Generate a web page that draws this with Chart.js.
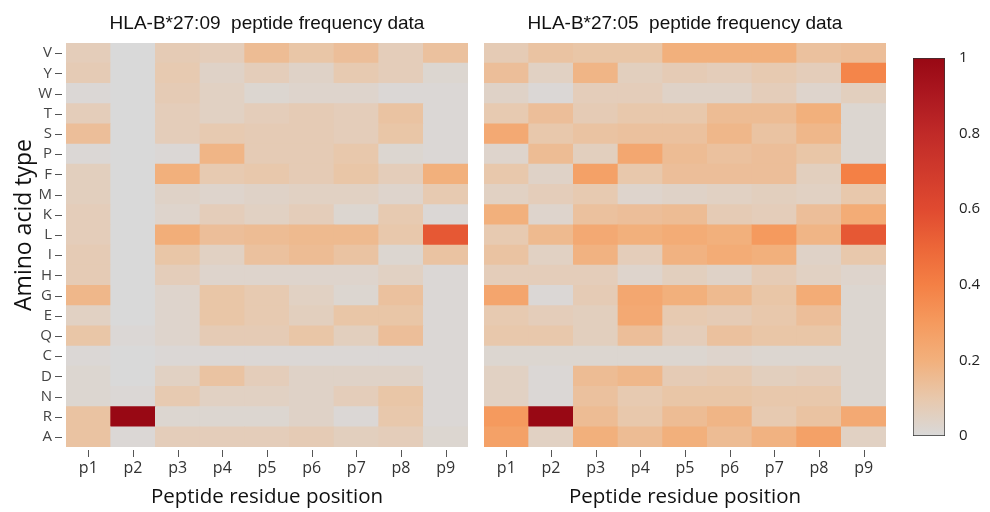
<!DOCTYPE html>
<html>
<head>
<meta charset="utf-8">
<title>HLA-B*27 peptide frequency heatmaps</title>
<script src="https://cdn.jsdelivr.net/npm/chart.js@4.4.1/dist/chart.umd.min.js"></script>
<style>
body{margin:0;background:#fff;}
#page{position:relative;width:990px;height:512px;overflow:hidden;}
.box{position:absolute;top:0;height:512px;}
#leftBox{left:0;width:476px;}
#rightBox{left:476px;width:420px;}
#barBox{left:900px;width:90px;}
</style>
</head>
<body>
<div id="page">
<div class="box" id="leftBox"><canvas id="leftChart"></canvas></div>
<div class="box" id="rightBox"><canvas id="rightChart"></canvas></div>
<div class="box" id="barBox"><canvas id="colorBar"></canvas></div>
</div>
<script>

/* DATA */

const positions = ["p1","p2","p3","p4","p5","p6","p7","p8","p9"];

// rows from top to bottom as in the figure
const aminoAcids = ["V","Y","W","T","S","P","F","M","K","L","I","H","G","E","Q","C","D","N","R","A"];

// HLA-B*27:09, one row per amino acid (same order), p1..p9
const freqB2709 = [
[0.07,0.00,0.08,0.07,0.15,0.11,0.14,0.07,0.13],
[0.08,0.00,0.09,0.04,0.07,0.04,0.09,0.07,0.02],
[0.01,0.00,0.08,0.05,0.02,0.03,0.03,0.01,0.01],
[0.07,0.00,0.07,0.05,0.07,0.08,0.07,0.12,0.01],
[0.14,0.00,0.07,0.09,0.08,0.08,0.07,0.11,0.01],
[0.01,0.00,0.01,0.18,0.08,0.08,0.10,0.02,0.01],
[0.06,0.00,0.20,0.09,0.10,0.08,0.11,0.07,0.20],
[0.06,0.00,0.04,0.03,0.04,0.05,0.05,0.03,0.09],
[0.07,0.00,0.03,0.07,0.05,0.07,0.02,0.09,0.01],
[0.07,0.00,0.21,0.14,0.15,0.16,0.16,0.10,0.55],
[0.08,0.00,0.11,0.05,0.13,0.15,0.12,0.02,0.12],
[0.08,0.00,0.07,0.03,0.03,0.03,0.03,0.05,0.01],
[0.17,0.00,0.03,0.11,0.09,0.05,0.02,0.13,0.01],
[0.05,0.00,0.03,0.11,0.09,0.06,0.11,0.11,0.01],
[0.11,0.01,0.03,0.08,0.08,0.11,0.06,0.14,0.01],
[0.01,0.00,0.01,0.01,0.01,0.01,0.01,0.01,0.01],
[0.02,0.00,0.05,0.12,0.07,0.04,0.04,0.04,0.01],
[0.02,0.01,0.09,0.05,0.05,0.04,0.07,0.11,0.01],
[0.12,1.00,0.02,0.02,0.02,0.04,0.01,0.10,0.01],
[0.12,0.01,0.07,0.07,0.07,0.08,0.06,0.07,0.02]
];

// HLA-B*27:05, same layout
const freqB2705 = [
[0.08,0.12,0.11,0.11,0.20,0.20,0.20,0.13,0.14],
[0.14,0.05,0.18,0.06,0.08,0.07,0.09,0.07,0.38],
[0.04,0.01,0.07,0.07,0.04,0.04,0.07,0.03,0.06],
[0.09,0.14,0.08,0.10,0.10,0.15,0.15,0.20,0.02],
[0.23,0.10,0.12,0.13,0.13,0.17,0.12,0.17,0.02],
[0.03,0.15,0.06,0.24,0.15,0.13,0.14,0.11,0.02],
[0.10,0.04,0.27,0.10,0.14,0.14,0.14,0.06,0.40],
[0.05,0.07,0.09,0.03,0.04,0.05,0.06,0.05,0.10],
[0.20,0.03,0.13,0.14,0.15,0.08,0.07,0.14,0.22],
[0.09,0.16,0.23,0.20,0.22,0.20,0.30,0.18,0.55],
[0.12,0.05,0.19,0.07,0.19,0.22,0.20,0.04,0.10],
[0.07,0.07,0.07,0.03,0.06,0.04,0.08,0.05,0.03],
[0.25,0.01,0.08,0.24,0.20,0.16,0.11,0.22,0.02],
[0.09,0.07,0.06,0.23,0.09,0.08,0.10,0.14,0.02],
[0.10,0.10,0.06,0.14,0.07,0.13,0.11,0.11,0.02],
[0.02,0.02,0.02,0.02,0.02,0.03,0.02,0.02,0.02],
[0.05,0.01,0.15,0.17,0.08,0.09,0.06,0.07,0.02],
[0.05,0.01,0.13,0.09,0.11,0.11,0.10,0.10,0.02],
[0.30,1.00,0.15,0.10,0.15,0.18,0.09,0.12,0.23],
[0.27,0.05,0.20,0.15,0.20,0.15,0.19,0.27,0.05]
];

const colorTicks = [0, 0.2, 0.4, 0.6, 0.8, 1];

/* COLOUR SCALE */

const colorStops = [
[0.0,[217,217,217]],
[0.1,[232,200,172]],
[0.2,[242,176,124]],
[0.3,[245,154,94]],
[0.4,[244,128,69]],
[0.5,[236,102,56]],
[0.6,[224,74,48]],
[0.7,[208,58,44]],
[0.8,[192,42,40]],
[0.9,[172,24,32]],
[1.0,[152,8,20]]
];

function colorFor(v){
v = Math.max(0, Math.min(1, v));
for(let i = 1; i < colorStops.length; i++){
const [p1,c1] = colorStops[i];
const [p0,c0] = colorStops[i-1];
if(v <= p1){
const t = (v - p0) / (p1 - p0);
const c = c0.map((x,k) => Math.round(x + (c1[k]-x)*t));
return `rgb(${c[0]},${c[1]},${c[2]})`;
}
}
return "rgb(152,8,20)";
}

/* FONTS */

const FONT = "'Open Sans', 'DejaVu Sans', sans-serif";
const TITLE_FONT = "'Liberation Sans', Arial, sans-serif";

/* PANEL TEXT + SHORT DETACHED TICK MARKS */

const panelText = {
id: "panelText",
afterDraw(chart, args, opts){
const ctx = chart.ctx;
const area = chart.chartArea;
ctx.save();

// tick marks, a few px away from the cells
ctx.strokeStyle = "#555";
ctx.lineWidth = 1;
ctx.beginPath();
const xs = chart.scales.x;
xs.ticks.forEach((t,i) => {
const x = Math.round(xs.getPixelForTick(i)) + 0.5;
ctx.moveTo(x, area.bottom + 3);
ctx.lineTo(x, area.bottom + 10);
});
if(opts.yTitle){
const ys = chart.scales.y;
ys.ticks.forEach((t) => {
const y = Math.round(ys.getPixelForValue(t.value)) + 0.5;
ctx.moveTo(area.left - 11, y);
ctx.lineTo(area.left - 4, y);
});
}
ctx.stroke();

ctx.fillStyle = "#111";
ctx.textAlign = "center";
ctx.textBaseline = "middle";
if(opts.title){
ctx.font = `19px ${TITLE_FONT}`;
ctx.fillText(opts.title, (area.left + area.right) / 2, 24);
}
if(opts.yTitle){
ctx.font = `23px ${FONT}`;
ctx.translate(24, 225);
ctx.rotate(-Math.PI / 2);
ctx.fillText(opts.yTitle, 0, 0);
}
ctx.restore();
}
};

/* HEATMAP BUILDER */

function buildHeatmap(canvasId, title, freq, showYAxis, padding){

// bottom row first so the stack goes A ... V upward
const datasets = [];
for(let r = aminoAcids.length - 1; r >= 0; r--){
datasets.push({
label: aminoAcids[r],
data: positions.map(() => 1),
backgroundColor: freq[r].map(colorFor),
borderWidth: 0,
barPercentage: 1,
categoryPercentage: 1
});
}

const n = aminoAcids.length;

return new Chart(document.getElementById(canvasId),{
type: "bar",
data: { labels: positions, datasets: datasets },
plugins: [panelText],
options:{
responsive: true,
maintainAspectRatio: false,
animation: false,
layout:{ padding: padding },
plugins:{
legend:{ display:false },
tooltip:{ enabled:false },
title:{ display:false },
panelText:{ title: title, yTitle: showYAxis ? "Amino acid type" : null }
},
scales:{
x:{
stacked: true,
grid:{ display: true, drawOnChartArea: false, offset: false, tickLength: 10, color: "rgba(0,0,0,0)", tickColor: "rgba(0,0,0,0)" },
border:{ display: false },
ticks:{ color: "#333", font:{ family: FONT, size: 16 }, padding: 2 },
title:{
display: true,
text: "Peptide residue position",
color: "#111",
font:{ family: FONT, size: 20.5 },
padding:{ top: 0, bottom: 3 }
},
afterFit(scale){ scale.height = 65; }
},
y:{
stacked: true,
min: 0,
max: n,
display: showYAxis,
grid:{ display: true, drawOnChartArea: false, tickLength: 11, color: "rgba(0,0,0,0)", tickColor: "rgba(0,0,0,0)" },
border:{ display: false },
afterBuildTicks(scale){
scale.ticks = aminoAcids.map((a,i) => ({ value: n - i - 0.5 }));
},
ticks:{
color: "#444",
font:{ family: FONT, size: 15 },
padding: 3,
autoSkip: false,
callback: (value) => aminoAcids[Math.round(n - 0.5 - value)]
},
afterFit(scale){ if(showYAxis) scale.width = 66; }
}
}
}
});

}

buildHeatmap("leftChart", "HLA-B*27:09  peptide frequency data", freqB2709, true, { left:0, right:8, top:43, bottom:0 });
buildHeatmap("rightChart", "HLA-B*27:05  peptide frequency data", freqB2705, false, { left:8, right:10, top:43, bottom:0 });

/* COLOUR BAR */

new Chart(document.getElementById("colorBar"),{
type: "bar",
data:{
labels: [""],
datasets:[{
data: [1],
borderColor: "#333",
borderWidth: 1,
borderSkipped: false,
barPercentage: 1,
categoryPercentage: 1,
backgroundColor(ctx){
const area = ctx.chart.chartArea;
if(!area) return "#ddd";
const g = ctx.chart.ctx.createLinearGradient(0, area.bottom, 0, area.top);
colorStops.forEach(([p]) => g.addColorStop(p, colorFor(p)));
return g;
}
}]
},
options:{
responsive: true,
maintainAspectRatio: false,
animation: false,
layout:{ padding:{ left: 13, right: 0, top: 58, bottom: 76 } },
plugins:{ legend:{ display:false }, tooltip:{ enabled:false } },
scales:{
x:{ display: false },
y:{
position: "right",
min: 0,
max: 1,
grid:{ display: false },
border:{ display: false },
afterBuildTicks(scale){
scale.ticks = colorTicks.map(v => ({ value: v }));
},
ticks:{ color: "#222", font:{ family: FONT, size: 15 }, padding: 6, callback: v => String(Math.round(v * 10) / 10) },
afterFit(scale){ scale.width = 45; }
}
}
}
});

</script>
</body>
</html>
